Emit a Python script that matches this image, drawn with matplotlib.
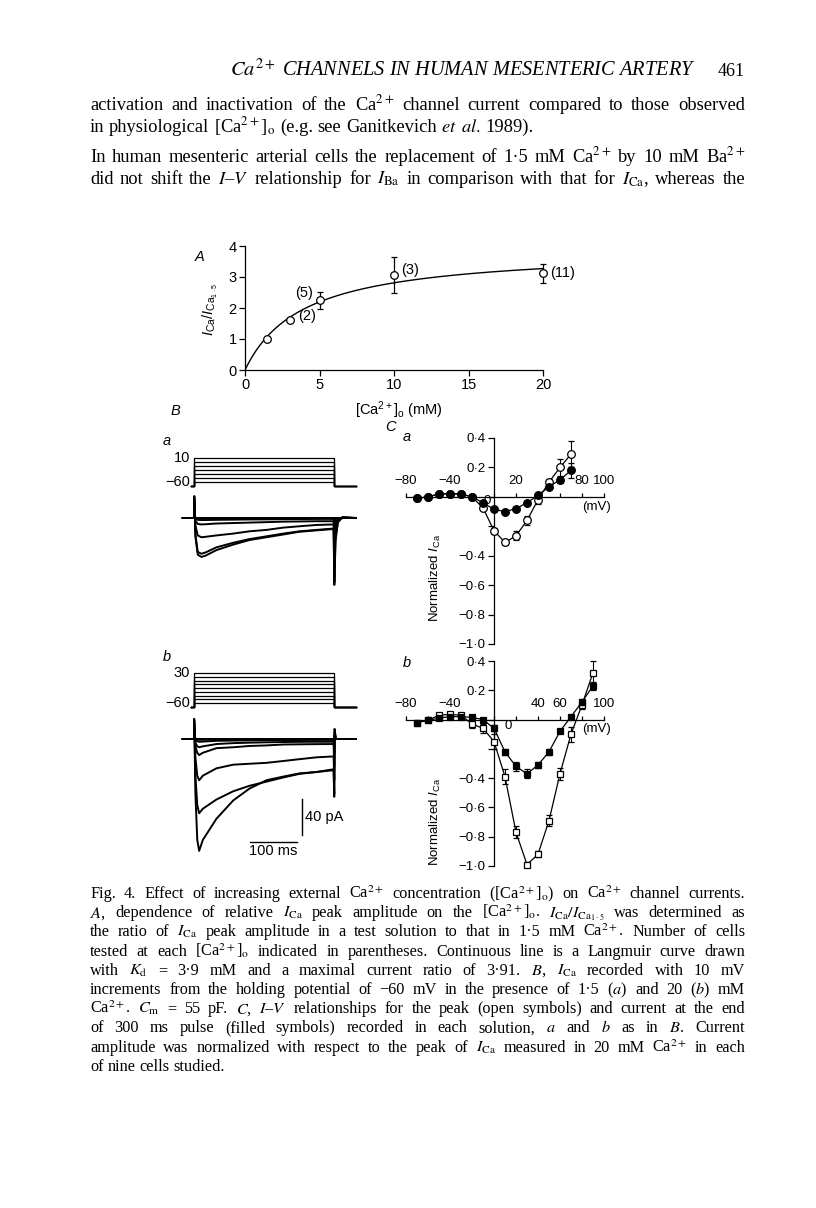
import numpy as np
import matplotlib.pyplot as plt

W, H = 816, 1208
plt.rcParams['font.family'] = ['Liberation Sans', 'DejaVu Sans']
plt.rcParams['mathtext.fontset'] = 'custom'
plt.rcParams['mathtext.rm'] = 'Liberation Sans'
plt.rcParams['mathtext.it'] = 'Liberation Sans:italic'
plt.rcParams['mathtext.bf'] = 'Liberation Sans:bold'
plt.rcParams['axes.linewidth'] = 0.9

# ---------------- data ----------------
# A: relative peak amplitude vs [Ca]o
ca_conc = [1.5, 3, 5, 10, 20]
ratio = [1.0, 1.6, 2.25, 3.05, 3.12]
ratio_err = [0, 0, 0.28, 0.58, 0.3]
n_cells = ['', '(2)', '(5)', '(3)', '(11)']
Kd = 3.9
ratio_max = 3.91

# B: current traces (pA) sampled at times (ms from pulse onset)
t_a = [-24, 0, 0.7, 3, 8, 16, 25, 48, 84, 119, 155, 191, 226, 262, 299, 300.5, 303, 308, 318, 346]
traces_a = [
    [0, 0, 3, 0, 0, 0, 0, 0, 0, 0, 0, 0, 0, 0, 0, 0, 0, 0, 0, 0],
    [0, 0, 5, 0, -0.5, -0.5, -0.5, -0.4, -0.4, -0.3, -0.3, -0.3, -0.2, -0.2, -0.2, -1, 0, 0, 0, 0],
    [0, 0, 8, -1, -2, -2.2, -2.2, -2, -1.8, -1.6, -1.5, -1.3, -1.2, -1, -1, -5, -1, 0, 0, 0],
    [0, 0, 12, -3, -6.5, -7, -6.8, -6, -5.5, -5, -4.5, -4, -3.8, -3.5, -3.5, -20, -5, -1, 0, 0],
    [0, 0, 18, -8, -19, -21, -20.5, -19, -17, -14.5, -13, -10.5, -9, -7.6, -7, -45, -12, -2, 0, 0],
    [0, 0, 22, -18, -37, -39, -37.5, -32, -27, -23, -20, -17, -14.5, -13, -11.5, -70, -22, -4, 1, 0],
    [0, 0, 24, -20, -40, -42.5, -41, -35, -29, -24, -21, -18, -15, -13.5, -12, -73, -25, -5, 1, 0],
]
steps_a = [-50, -40, -30, -20, -10, 0, 10]

t_b = [-24, 0, 0.5, 3, 7, 11, 19, 48, 84, 119, 155, 191, 226, 262, 299, 300.3, 301, 304, 318, 346]
traces_b = [
    [0, 0, 2, 0, 0, 0, 0, 0, 0, 0, 0, 0, 0, 0, 0, 0, 0, 0, 0, 0],
    [0, 0, 4, 0, 0, -0.2, -0.2, -0.1, -0.1, 0, 0, 0, 0, 0, 0, -1, 0, 0, 0, 0],
    [0, 0, 6, 0, -0.5, -0.8, -0.7, -0.5, -0.4, -0.3, -0.3, -0.3, -0.2, -0.2, -0.2, -2, 0, 0, 0, 0],
    [0, 0, 9, -1, -2.5, -3, -2.8, -2, -1.7, -1.5, -1.3, -1.2, -1.1, -1, -1, -5, 1, 0, 0, 0],
    [0, 0, 12, -4, -8, -9, -8, -5.5, -4.5, -4, -3.6, -3.3, -3.1, -3, -3, -15, 2, 0, 0, 0],
    [0, 0, 15, -8, -15, -17.5, -15, -10, -9, -7.6, -7, -6, -5.8, -5.6, -5.5, -30, 3, 0, 0, 0],
    [0, 0, 18, -20, -40, -45, -40, -32, -28, -27, -26, -24, -22, -20, -19, -45, 5, 0, 0, 0],
    [0, 0, 20, -40, -72, -81, -76, -66, -57, -51, -46.5, -42, -38, -36, -34, -60, 8, 0, 0, 0],
    [0, 0, 22, -60, -110, -122, -110, -87, -67, -54, -45, -41, -37.5, -36, -33, -63, 11, 0, 0, 0],
]
steps_b = [-50, -40, -30, -20, -10, 0, 10, 20, 30]
hold = -60
pulse_len = 300

# C: normalized I-V
v_a = [-70, -60, -50, -40, -30, -20, -10, 0, 10, 20, 30, 40, 50, 60, 70]
peak_a = [-0.01, 0.0, 0.02, 0.02, 0.02, 0.0, -0.075, -0.23, -0.31, -0.265, -0.16, -0.02, 0.1, 0.2, 0.29]
peak_a_err = [0, 0, 0, 0, 0, 0, 0.01, 0.02, 0.02, 0.03, 0.03, 0.03, 0.02, 0.06, 0.09]
end_a = [-0.01, 0.0, 0.02, 0.02, 0.02, 0.0, -0.04, -0.085, -0.10, -0.08, -0.04, 0.01, 0.07, 0.115, 0.18]
end_a_err = [0, 0, 0, 0, 0, 0, 0.01, 0.01, 0.01, 0.01, 0.01, 0.01, 0.01, 0.02, 0.05]

v_b = [-70, -60, -50, -40, -30, -20, -10, 0, 10, 20, 30, 40, 50, 60, 70, 80, 90]
peak_b = [-0.02, -0.005, 0.03, 0.035, 0.03, -0.03, -0.06, -0.15, -0.39, -0.77, -0.99, -0.92, -0.69, -0.37, -0.1, 0.1, 0.32]
peak_b_err = [0, 0, 0, 0.01, 0.01, 0.03, 0.03, 0.05, 0.05, 0.04, 0.02, 0.02, 0.04, 0.04, 0.05, 0.03, 0.08]
end_b = [-0.02, -0.005, 0.01, 0.02, 0.02, 0.015, 0.0, -0.06, -0.22, -0.32, -0.37, -0.31, -0.22, -0.08, 0.02, 0.12, 0.23]
end_b_err = [0, 0, 0, 0, 0, 0, 0.01, 0.02, 0.02, 0.03, 0.03, 0.02, 0.02, 0.01, 0.01, 0.02, 0.03]

fig = plt.figure(figsize=(W / 100, H / 100), dpi=100)


def box(x0, y0, x1, y1):
    # axes from pixel corners (top-down image coords)
    return fig.add_axes([x0 / W, 1 - y1 / H, (x1 - x0) / W, (y1 - y0) / H])


# ---------------- panel A ----------------
axA = box(245, 246, 543, 370)
xx = np.linspace(0, 20, 200)
axA.plot(xx, ratio_max * xx / (Kd + xx), 'k', lw=1.0)
axA.errorbar(ca_conc, ratio, yerr=ratio_err, fmt='o', mfc='white', mec='k', ecolor='k',
             ms=5.5, mew=0.9, elinewidth=0.9, capsize=2.5, clip_on=False, zorder=3)
offs = [(0, 0), (6, 3), (-5, 5), (5, 4), (5, 0)]
has = ['left', 'left', 'right', 'left', 'left']
for x, y, lab, o, h in zip(ca_conc, ratio, n_cells, offs, has):
    if lab:
        axA.annotate(lab, (x, y), xytext=o, textcoords='offset points', ha=h, va='center', fontsize=10.5)
axA.set_xlim(0, 20)
axA.set_ylim(0, 4)
axA.set_xticks([0, 5, 10, 15, 20])
axA.set_yticks([0, 1, 2, 3, 4])
axA.spines['top'].set_visible(False)
axA.spines['right'].set_visible(False)
axA.tick_params(direction='out', length=4, width=0.9, labelsize=10.5, pad=2)
axA.patch.set_visible(False)
fig.text(399 / W, 1 - 410 / H, r'[Ca$^{2+}$]$_\mathrm{o}$ (mM)', ha='center', va='center', fontsize=10.5)
fig.text(210 / W, 1 - 310 / H, r'$I_\mathrm{Ca}/I_{\mathrm{Ca}_{1\cdot5}}$', rotation=90,
         ha='center', va='center', fontsize=10.5)
fig.text(200 / W, 1 - 257 / H, 'A', style='italic', fontsize=10.5, ha='center', va='center')
fig.text(175 / W, 1 - 411 / H, 'B', style='italic', fontsize=10.5, ha='center', va='center')

# ---------------- panel B ----------------
px_ms = 0.467
px_pA = 0.917


def trace_axes(base_y, ylo, yhi):
    return box(194 - 30 * px_ms, base_y - yhi * px_pA, 194 + 350 * px_ms, base_y - ylo * px_pA)


def proto_axes(hold_y, top_y, vtop):
    s = (hold_y - top_y) / (vtop - hold)
    return box(194 - 30 * px_ms, hold_y - (vtop + 5 - hold) * s, 194 + 350 * px_ms, hold_y + 5 * s), s


for steps, tr, tt, base_y, ylo, hold_y, top_y, lab, lab_y in [
        (steps_a, traces_a, t_a, 518, -90, 486, 458, 'a', 441),
        (steps_b, traces_b, t_b, 739, -135, 707, 673, 'b', 657)]:
    axp, s = proto_axes(hold_y, top_y, steps[-1])
    for v in steps:
        axp.plot([-6, 0, 0, pulse_len, pulse_len, 346], [hold, hold, v, v, hold, hold],
                 'k', lw=0.9, clip_on=False)
    axp.set_xlim(-30, 350)
    axp.set_ylim(hold - 5, steps[-1] + 5)
    axp.axis('off')
    axp.annotate(str(steps[-1]), (0, steps[-1]), xytext=(-3, 0), textcoords='offset points',
                 ha='right', va='center', fontsize=10.5)
    axp.annotate('\u221260', (0, hold), xytext=(-3, 3), textcoords='offset points',
                 ha='right', va='center', fontsize=10.5)
    axt = trace_axes(base_y, ylo, 30)
    for y in tr:
        axt.plot(tt, y, 'k', lw=1.4, clip_on=False)
    axt.set_xlim(-30, 350)
    axt.set_ylim(ylo, 30)
    axt.axis('off')
    fig.text(167 / W, 1 - lab_y / H, lab, style='italic', fontsize=10.5, ha='center', va='center')
    if lab == 'b':
        axt.plot([231, 231], [-65, -105], 'k', lw=1.0)
        axt.text(237, -85, '40 pA', fontsize=10.5, ha='left', va='center')
        axt.plot([120, 220], [-112, -112], 'k', lw=1.0)
        axt.text(170, -114, '100 ms', fontsize=10.5, ha='center', va='top')

# ---------------- panel C ----------------
yt = [0.4, 0.2, 0, -0.2, -0.4, -0.6, -0.8, -1.0]
ytl = ['0\u00b74', '0\u00b72', '', '', '\u22120\u00b74', '\u22120\u00b76', '\u22120\u00b78', '\u22121\u00b70']
for (v, pk, pke, en, ene, mk, y0, y1, xlabs, zero_off, lab, lab_y, ylab_y) in [
        (v_a, peak_a, peak_a_err, end_a, end_a_err, 'o', 438, 644, [-80, -40, 20, 80, 100], (-5, -7), 'a', 437, 578),
        (v_b, peak_b, peak_b_err, end_b, end_b_err, 's', 661, 866, [-80, -40, 40, 60, 100], (10, -9), 'b', 663, 822)]:
    ax = box(406, y0, 604, y1)
    ms = 5.5 if mk == 'o' else 5
    ax.errorbar(v, pk, yerr=pke, fmt='-' + mk, color='k', mfc='white', mec='k', ms=ms, mew=0.9,
                lw=0.9, elinewidth=0.8, capsize=2, clip_on=False, zorder=3)
    ax.errorbar(v, en, yerr=ene, fmt='-' + mk, color='k', mfc='k', mec='k', ms=ms, mew=0.9,
                lw=0.9, elinewidth=0.8, capsize=2, clip_on=False, zorder=4)
    ax.set_xlim(-80, 100)
    ax.set_ylim(-1.0, 0.4)
    ax.spines['left'].set_position(('data', 0))
    ax.spines['bottom'].set_position(('data', 0))
    ax.spines['top'].set_visible(False)
    ax.spines['right'].set_visible(False)
    ax.set_yticks(yt)
    ax.set_yticklabels(ytl)
    ax.set_xticks(np.arange(-80, 101, 20))
    ax.set_xticklabels([])
    ax.tick_params(axis='y', direction='out', length=4, width=0.9, labelsize=9.5, pad=2)
    ax.tick_params(axis='x', direction='in', length=3, width=0.9)
    ax.patch.set_visible(False)
    for xl in xlabs:
        ax.annotate(str(xl).replace('-', '\u2212'), (xl, 0), xytext=(0, 7), textcoords='offset points',
                    ha='center', va='bottom', fontsize=9.5)
    ax.annotate('0', (0, 0), xytext=zero_off, textcoords='offset points', ha='center', va='bottom', fontsize=9.5)
    ax.annotate('(mV)', (100, 0), xytext=(5, -7), textcoords='offset points', ha='right', va='center', fontsize=9.5)
    fig.text(435 / W, 1 - ylab_y / H, r'Normalized $I_\mathrm{Ca}$', rotation=90, ha='center', va='center', fontsize=9.5)
    fig.text(407 / W, 1 - lab_y / H, lab, style='italic', fontsize=10.5, ha='center', va='center')
fig.text(390 / W, 1 - 427 / H, 'C', style='italic', fontsize=10.5, ha='center', va='center')

# ---------------- page text ----------------
r = fig.canvas.get_renderer()


def put_line(line, y, size, justify=True, x0=90, x1=745):
    words = line.split(' ')
    while True:
        objs = [fig.text(0, 0, w, fontsize=size, family='Liberation Serif', math_fontfamily='stix',
                         va='baseline', ha='left') for w in words]
        ws = [o.get_window_extent(r).width for o in objs]
        gap = size * 0.25 * 100 / 72
        if not justify or len(words) < 2:
            break
        g = (x1 - x0 - sum(ws)) / (len(words) - 1)
        if g >= size * 0.22 * 100 / 72:
            gap = g
            break
        for o in objs:
            o.remove()
        size -= 0.2
    x = x0
    for o, w in zip(objs, ws):
        o.set_position((x / W, 1 - y / H))
        x += w + gap


hdr = fig.text(230 / W, 1 - 76 / H, r'$\mathit{Ca}^{2+}$ CHANNELS IN HUMAN MESENTERIC ARTERY',
               fontsize=12, family='Liberation Serif', style='italic', math_fontfamily='stix', va='baseline')
hdr.set_fontsize(12 * 466 / hdr.get_window_extent(r).width)
fig.text(745 / W, 1 - 76 / H, '461', fontsize=13, family='Liberation Serif', va='baseline', ha='right')

body = [
    (r'activation and inactivation of the Ca$^{2+}$ channel current compared to those observed', True, 110),
    (r'in physiological [Ca$^{2+}$]$_\mathrm{o}$ (e.g. see Ganitkevich $\mathit{et}$ $\mathit{al.}$ 1989).', False, 132),
    (r'In human mesenteric arterial cells the replacement of 1·5 mM Ca$^{2+}$ by 10 mM Ba$^{2+}$', True, 162),
    (r'did not shift the $I$–$V$ relationship for $I_\mathrm{Ba}$ in comparison with that for $I_\mathrm{Ca}$, whereas the', True, 184),
]
for ln, j, y in body:
    put_line(ln, y, 13.3, j)

caption = [
    (r'Fig. 4. Effect of increasing external Ca$^{2+}$ concentration ([Ca$^{2+}$]$_\mathrm{o}$) on Ca$^{2+}$ channel currents.', True),
    (r'$\mathit{A}$, dependence of relative $I_\mathrm{Ca}$ peak amplitude on the [Ca$^{2+}$]$_\mathrm{o}$. $I_\mathrm{Ca}/I_{\mathrm{Ca}_{1\cdot5}}$ was determined as', True),
    (r'the ratio of $I_\mathrm{Ca}$ peak amplitude in a test solution to that in 1·5 mM Ca$^{2+}$. Number of cells', True),
    (r'tested at each [Ca$^{2+}$]$_\mathrm{o}$ indicated in parentheses. Continuous line is a Langmuir curve drawn', True),
    (r'with $K_\mathrm{d}$ = 3·9 mM and a maximal current ratio of 3·91. $\mathit{B}$, $I_\mathrm{Ca}$ recorded with 10 mV', True),
    (r'increments from the holding potential of −60 mV in the presence of 1·5 ($\mathit{a}$) and 20 ($\mathit{b}$) mM', True),
    (r'Ca$^{2+}$. $C_\mathrm{m}$ = 55 pF. $\mathit{C}$, $I$–$V$ relationships for the peak (open symbols) and current at the end', True),
    (r'of 300 ms pulse (filled symbols) recorded in each solution, $\mathit{a}$ and $\mathit{b}$ as in $\mathit{B}$. Current', True),
    (r'amplitude was normalized with respect to the peak of $I_\mathrm{Ca}$ measured in 20 mM Ca$^{2+}$ in each', True),
    (r'of nine cells studied.', False),
]
for i, (ln, j) in enumerate(caption):
    put_line(ln, 898 + 19.2 * i, 11.7, j)

fig.savefig('out.png', dpi=100)
